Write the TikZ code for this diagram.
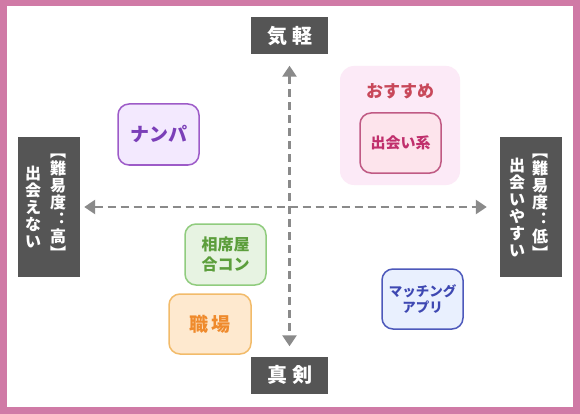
\documentclass[tikz,border=0pt]{standalone}
\usepackage{fontspec}
\setmainfont{Noto Sans CJK JP}
\usepackage{tikz}
\usetikzlibrary{arrows.meta, positioning, shadows}
\usepackage{xcolor}
\definecolor{frameC}{RGB}{208, 122, 166}
\definecolor{labelC}{RGB}{85, 85, 85}
\definecolor{axisC}{RGB}{138, 138, 138}
\definecolor{nanpaF}{RGB}{243, 233, 254}
\definecolor{nanpaD}{RGB}{157, 91, 200}
\definecolor{nanpaT}{RGB}{123, 63, 184}
\definecolor{recoF}{RGB}{252, 234, 247}
\definecolor{recoT}{RGB}{200, 72, 90}
\definecolor{deaiF}{RGB}{253, 228, 236}
\definecolor{deaiD}{RGB}{192, 90, 132}
\definecolor{deaiT}{RGB}{192, 47, 108}
\definecolor{aisekiF}{RGB}{231, 243, 226}
\definecolor{aisekiD}{RGB}{144, 204, 126}
\definecolor{aisekiT}{RGB}{92, 158, 60}
\definecolor{shokubaF}{RGB}{254, 233, 207}
\definecolor{shokubaD}{RGB}{242, 187, 106}
\definecolor{shokubaT}{RGB}{239, 138, 44}
\definecolor{appF}{RGB}{233, 240, 254}
\definecolor{appD}{RGB}{77, 89, 187}
\definecolor{appT}{RGB}{62, 72, 178}

\begin{document}
\begin{tikzpicture}[
  x=1pt, y=-1pt,
  every node/.style={font=\bfseries},
  catbox/.style={draw, rounded corners=11pt, line width=1.5pt, minimum width=81pt,
    minimum height=61pt, inner sep=0pt, align=center},
  axislabel/.style={fill=labelC, text=white, inner sep=0pt},
  vcol/.style={text=white, align=center, inner sep=0pt,
    font=\bfseries\fontsize{16}{17}\selectfont},
  axis/.style={axisC, line width=2.5pt, dash pattern=on 8pt off 5pt,
    {Triangle[length=11pt,width=14pt]}-{Triangle[length=11pt,width=14pt]}}
]
  \useasboundingbox (0,0) rectangle (580,414);
  % --- Frame ---
  \fill[frameC] (0,0) rectangle (580,414);
  \fill[white] (7,6) rectangle (573,407);

  % --- Axis labels ---
  \node[axislabel, minimum width=77pt, minimum height=37pt,
    font=\bfseries\fontsize{20}{20}\selectfont] (casual) at (289.5,36) {気\hspace{5pt}軽};
  \node[axislabel, minimum width=77pt, minimum height=37pt,
    font=\bfseries\fontsize{20}{20}\selectfont] (serious) at (289.5,375) {真\hspace{5pt}剣};
  \node[axislabel, minimum width=62pt, minimum height=140pt] (hard) at (49,207) {};
  \node[vcol] (hardtop) at (58,207) {︻\\難\\易\\度\\︓\\高\\︼};
  \node[vcol] (hardsub) at (33,207) {出\\会\\え\\な\\い};
  \node[axislabel, minimum width=62pt, minimum height=140pt] (easy) at (531,207) {};
  \node[vcol] (easytop) at (540,207) {︻\\難\\易\\度\\︓\\低\\︼};
  \node[vcol] (easysub) at (517,207) {出\\会\\い\\や\\す\\い};

  % --- Axes ---
  \draw[axis, shorten <=11pt, shorten >=10pt] (casual) -- (serious);
  \draw[axis, shorten <=4pt, shorten >=13pt] (hard) -- (easy);

  % --- Recommended group ---
  \node[fill=recoF, rounded corners=14pt, minimum width=120pt, minimum height=119pt]
    (reco) at (400,125.5) {};
  \node[text=recoT, font=\bfseries\fontsize{17}{17}\selectfont] (recotitle) at (400,91) {おすすめ};
  \node[catbox, draw=deaiD, fill=deaiF, text=deaiT, minimum width=81pt, minimum height=60pt,
    drop shadow={shadow xshift=0pt, shadow yshift=-1pt, opacity=0.12},
    font=\bfseries\fontsize{15}{15}\selectfont] (deai) at (400.5,143) {出会い系};

  % --- Categories ---
  \node[catbox, draw=nanpaD, fill=nanpaF, text=nanpaT,
    font=\bfseries\fontsize{19}{19}\selectfont] (nanpa) at (158.5,134.5) {ナンパ};
  \node[catbox, draw=aisekiD, fill=aisekiF, text=aisekiT,
    font=\bfseries\fontsize{16}{20}\selectfont] (aiseki) at (225.5,254.5) {相席屋\\合コン};
  \node[catbox, draw=shokubaD, fill=shokubaF, text=shokubaT, minimum width=82pt, minimum height=60pt,
    font=\bfseries\fontsize{19}{19}\selectfont] (shokuba) at (210,324) {職\hspace{4pt}場};
  \node[catbox, draw=appD, fill=appF, text=appT, minimum height=60pt,
    font=\bfseries\fontsize{13.5}{16}\selectfont] (app) at (422.5,299) {マッチング\\アプリ};
\end{tikzpicture}
\end{document}
